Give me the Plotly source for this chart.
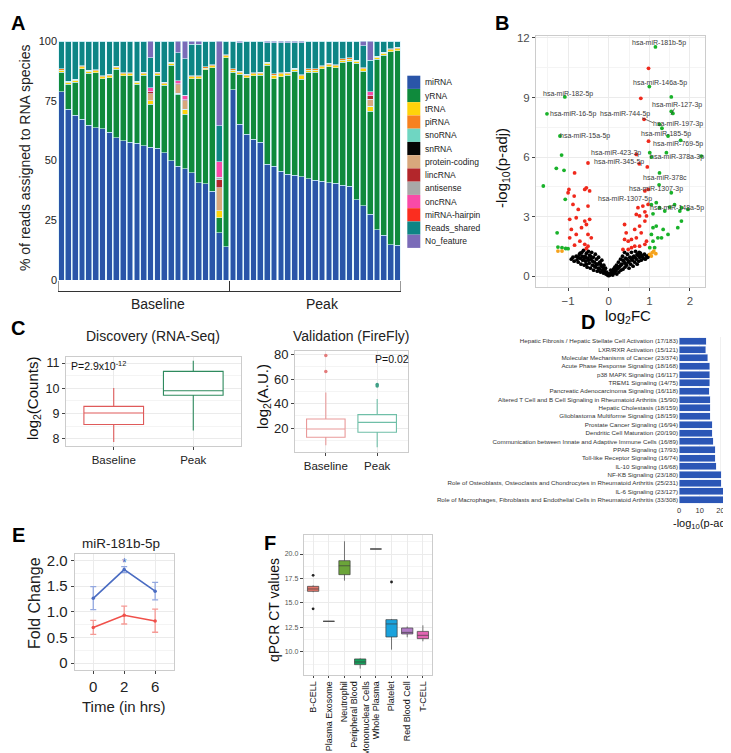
import plotly.graph_objects as go

W, H = 731, 753
FONT = "Liberation Sans, Arial, Helvetica, sans-serif"


def fx(p):
    return p / W


def fy(p):
    return 1 - p / H


# ===================== Panel A: RNA species per sample =====================
rna_types = ["miRNA", "yRNA", "tRNA", "piRNA", "snoRNA", "snRNA", "protein-coding",
             "lincRNA", "antisense", "oncRNA", "miRNA-hairpin", "Reads_shared", "No_feature"]
rna_colors = ["#2a55a8", "#0f8a3c", "#ffd30a", "#f7811f", "#6fd6c2", "#050505", "#d8a77c",
              "#b3262b", "#a8a8a8", "#f94aa8", "#fb2d1f", "#0d8585", "#7a6bb8"]
samples = list(range(1, 51))          # 25 Baseline + 25 Peak
group_names = ["Baseline", "Peak"]

a_mirna = [78.7, 71.4, 68.9, 67.2, 64.7, 63.7, 63.3, 61.9, 59.6, 58.2, 57.7, 57.2, 56.1,
           55.6, 55.1, 53.3, 49.8, 47.7, 46.6, 44.9, 40.7, 40.3, 37.2, 19.8, 13.9,
           79.5, 65.1, 60.9, 58.9, 57.7, 48.4, 47.7, 45.6, 44.2, 43.8, 43.2, 42.4, 41.8,
           41.4, 40.7, 40.4, 39.7, 39.3, 33.5, 31.0, 27.5, 21.0, 18.7, 14.8, 14.5]
a_yrna = [8.3, 10.5, 13.9, 21.2, 21.8, 23.0, 20.9, 22.8, 28.5, 27.2, 27.7, 24.7, 29.5,
          17.9, 30.5, 28.1, 40.0, 30.0, 22.7, 39.3, 43.5, 47.6, 51.6, 6.3, 79.1,
          7.5, 20.9, 23.8, 26.5, 27.9, 41.4, 36.5, 39.4, 41.4, 43.6, 40.7, 44.6, 45.2,
          47.0, 48.6, 48.4, 51.5, 52.3, 57.2, 56.4, 43.2, 71.3, 75.3, 80.7, 81.5]
a_trna = [0.8, 0.8, 0.8, 0.8, 0.8, 0.8, 0.8, 0.8, 0.8, 0.8, 0.8, 0.8, 0.8,
          1.4, 0.8, 0.8, 0.8, 0.5, 2.1, 0.8, 0.8, 0.8, 0.8, 2.8, 0.8,
          0.8, 0.8, 0.8, 0.8, 0.8, 0.8, 1.5, 1.2, 0.8, 0.8, 1.5, 0.8, 0.8,
          0.8, 0.8, 0.8, 0.8, 0.8, 0.8, 1.0, 2.1, 0.8, 0.8, 0.8, 0.8]
a_pirna = [0.5, 0.5, 0.5, 0.5, 0.5, 0.5, 0.5, 0.5, 0.5, 0.5, 0.5, 0.5, 0.5,
           0.0, 0.5, 0.5, 0.5, 0.0, 0.0, 0.5, 0.5, 0.5, 0.5, 0.0, 0.5,
           0.5, 0.5, 0.5, 0.5, 0.5, 0.5, 0.5, 0.5, 0.5, 0.5, 0.5, 0.5, 0.5,
           0.5, 0.5, 0.5, 0.5, 0.5, 0.5, 0.5, 0.0, 0.5, 0.5, 0.5, 0.5]
a_snorna = [0.0] * 50
a_snrna = [0.0] * 50
a_protein = [0, 0, 0, 0, 0, 0, 0, 0, 0, 0, 0, 0, 0,
             3.0, 0, 0, 0, 3.5, 3.5, 0, 0, 0, 0, 9.8, 0,
             0, 0, 0, 0, 0, 0, 0, 0, 0, 0, 0, 0, 0,
             0, 0, 0, 0, 0, 0, 0, 2.8, 0, 0, 0, 0]
a_linc = [0, 0, 0, 0, 0, 0, 0, 0, 0, 0, 0, 0, 0,
          0.8, 0, 0, 0, 0.5, 0.6, 0, 0, 0, 0, 3.2, 0,
          0, 0, 0, 0, 0, 0, 0, 0, 0, 0, 0, 0, 0,
          0, 0, 0, 0, 0, 0, 0, 1.4, 0, 0, 0, 0]
a_antisense = [0, 0, 0, 0, 0, 0, 0, 0, 0, 0, 0, 0, 0,
               0, 0, 0, 0, 0, 0, 0, 0, 0, 0, 1.0, 0,
               0, 0, 0, 0, 0, 0, 0, 0, 0, 0, 0, 0, 0,
               0, 0, 0, 0, 0, 0, 0, 0, 0, 0, 0, 0]
a_onc = [0, 0, 0, 0, 0, 0, 0, 0, 0, 0, 0, 0, 0,
         1.7, 0, 0, 0, 1.1, 1.8, 0, 0, 0, 0, 6.5, 0,
         0, 0, 0, 0, 0, 0, 0, 0, 0, 0, 0, 0, 0,
         0, 0, 0, 0, 0, 0, 0, 1.7, 0, 0, 0, 0]
a_hairpin = [0.0] * 50
a_shared = [11.7, 16.8, 15.9, 10.3, 12.2, 12.0, 14.5, 14.0, 10.6, 13.3, 13.3, 16.8, 13.1,
            12.6, 13.1, 17.3, 8.9, 11.8, 15.3, 13.1, 13.1, 10.8, 9.9, 15.1, 5.7,
            11.7, 11.9, 14.0, 13.3, 13.1, 8.1, 13.0, 12.5, 12.3, 10.5, 13.3, 11.7, 11.7,
            10.3, 9.4, 9.9, 7.5, 7.1, 8.0, 9.1, 13.3, 6.4, 4.7, 3.2, 2.7]
a_nofeat = [0, 0, 0, 0, 0, 0, 0, 0, 0, 0, 0, 0, 0,
            7.0, 0, 0, 0, 4.9, 7.4, 1.4, 1.4, 0, 0, 35.5, 0,
            0, 0.8, 0, 0, 0, 0.8, 0.8, 0.8, 0.8, 0.8, 0.8, 0, 0,
            0, 0, 0, 0, 0, 0, 2.0, 8.0, 0, 0, 0, 0]
a_series = [a_mirna, a_yrna, a_trna, a_pirna, a_snorna, a_snrna, a_protein,
            a_linc, a_antisense, a_onc, a_hairpin, a_shared, a_nofeat]

# ===================== Panel B: volcano =====================
b_black_x = [-0.92, -0.88, -0.85, -0.80, -0.78, -0.75, -0.72, -0.70, -0.68, -0.66, -0.64, -0.62,
             -0.60, -0.58, -0.57, -0.55, -0.53, -0.52, -0.50, -0.48, -0.47, -0.45, -0.44, -0.42,
             -0.40, -0.38, -0.37, -0.35, -0.33, -0.32, -0.30, -0.28, -0.27, -0.25, -0.23, -0.22,
             -0.20, -0.18, -0.17, -0.15, -0.13, -0.12, -0.10, -0.08, -0.07, -0.05, -0.03, -0.02,
             0.00, 0.01, 0.03, 0.05, 0.07, 0.09, 0.10, 0.12, 0.14, 0.15, 0.17, 0.19, 0.20, 0.22,
             0.24, 0.25, 0.27, 0.29, 0.30, 0.32, 0.34, 0.35, 0.37, 0.39, 0.40, 0.42, 0.44, 0.46,
             0.48, 0.50, 0.52, 0.54, 0.56, 0.58, 0.60, 0.62, 0.64, 0.66, 0.68, 0.70, 0.72, 0.74,
             0.76, 0.78, 0.80, 0.82, 0.85, 0.88, 0.90, 0.93, 0.96, 0.99,
             -0.60, -0.55, -0.50, -0.45, -0.40, -0.35, -0.30, -0.25, -0.20, -0.15, -0.10, 0.05,
             0.10, 0.15, 0.20, 0.25, 0.30, 0.35, 0.40, 0.45, 0.50, 0.55, 0.60, 0.65, 0.70, 0.75,
             0.80, -0.65, -0.70, -0.75]
b_black_y = [0.85, 0.95, 0.75, 1.00, 0.82, 0.70, 1.10, 0.90, 0.60, 1.20, 0.80, 1.30,
             0.55, 1.00, 0.75, 1.15, 0.45, 0.90, 1.25, 0.65, 1.05, 0.40, 0.85, 1.20,
             0.55, 0.95, 0.30, 0.70, 1.10, 0.45, 0.85, 0.25, 0.60, 0.95, 0.35, 0.70,
             0.20, 0.50, 0.80, 0.30, 0.15, 0.55, 0.25, 0.40, 0.10, 0.20, 0.05, 0.12,
             0.02, 0.08, 0.05, 0.15, 0.10, 0.25, 0.05, 0.35, 0.15, 0.45, 0.25, 0.55, 0.10, 0.40,
             0.70, 0.20, 0.50, 0.85, 0.30, 0.60, 1.00, 0.35, 0.75, 1.20, 0.45, 0.90, 0.55, 1.10,
             0.70, 0.40, 0.95, 0.60, 1.20, 0.80, 0.50, 1.00, 0.70, 1.25, 0.85, 0.60, 1.05, 0.75,
             0.95, 1.15, 0.80, 1.00, 0.90, 1.10, 0.85, 1.00, 0.95, 1.05,
             0.90, 0.60, 0.80, 1.00, 0.75, 0.50, 0.60, 0.40, 0.60, 0.45, 0.35, 0.30,
             0.20, 0.30, 0.35, 0.45, 0.55, 0.80, 0.65, 0.85, 0.75, 0.90, 0.95, 0.95, 1.10, 1.20,
             1.05, 1.00, 1.15, 0.95]
b_red_x = [0.98, 0.79, 0.87, 0.98, 0.68, -0.51, 0.75, 0.95, -0.84, 0.97,
           -0.98, -1.00, -0.55, -0.59, -0.47, -0.85, -0.88, -0.75, -0.51, -0.80,
           -0.59, -0.55, -0.47, -0.96, -0.67, -0.92, -0.80, -0.51, -0.43, -0.71,
           -0.96, -0.59, -0.51, -0.84, -0.55, 0.39, 0.43, 0.39, 0.48, 0.56,
           0.68, 0.64, 0.76, 0.80, 0.89, 0.76, 0.93, 0.84, 0.89, 0.68,
           0.72, 0.97, 0.64, 0.76, 0.89, 0.56, 0.35, 0.48, 0.93, 0.89]
b_red_y = [10.47, 8.96, 7.9, 6.8, 6.13, 5.7, 5.66, 5.5, 5.2, 4.37,
           4.37, 4.2, 4.45, 4.37, 4.29, 4.03, 3.61, 3.36, 3.53, 2.94,
           2.77, 2.6, 2.86, 2.86, 2.44, 2.35, 2.1, 2.1, 1.93, 1.76,
           1.93, 1.6, 1.51, 1.56, 1.39, 2.6, 2.18, 1.85, 1.76, 1.85,
           1.93, 2.35, 2.52, 2.18, 2.77, 3.03, 3.03, 3.53, 3.24, 3.11,
           3.45, 3.61, 1.51, 1.51, 1.6, 1.43, 1.34, 1.34, 1.76, 4.29]
b_green_x = [1.15, 1.00, 1.54, 1.54, 1.58, 1.25, 1.31, 1.46, 1.77, 1.01,
             1.05, 1.42, 2.28, 1.25, 1.24, 1.54, 1.05, 1.17, 1.25, 1.38,
             1.50, 1.62, 1.79, 1.95, 1.75, 1.09, 1.79, 1.70, 1.46, 1.34,
             1.21, 1.09, 1.13, 1.05, 1.30, 1.17, 1.01, 1.09,
             -1.08, -1.52, -1.20, -1.16, -1.29, -1.10, -1.61, -1.07, -1.27, -1.25,
             -1.15, -1.06, -1.00]
b_green_y = [11.55, 9.55, 9.03, 8.3, 8.2, 7.65, 7.45, 7.06, 6.84, 6.22,
             6.0, 6.22, 6.05, 5.2, 4.6, 4.2, 3.6, 3.7, 3.45, 3.28,
             3.48, 3.6, 3.45, 3.36, 3.28, 3.14, 2.77, 2.44, 2.1, 2.35,
             1.93, 1.76, 1.43, 2.1, 1.93, 2.52, 1.43, 2.44,
             9.03, 8.18, 7.06, 6.1, 5.43, 5.33, 4.54, 3.87, 2.18, 1.46,
             1.43, 1.39, 1.38]
b_orange_x = [-1.25, -1.15, 1.01, 1.07, 1.11, 1.16, 1.05]
b_orange_y = [1.26, 1.26, 1.09, 1.18, 1.26, 1.13, 1.01]
b_labels = ["hsa-miR-181b-5p", "hsa-miR-146a-5p", "hsa-miR-182-5p", "hsa-miR-127-3p",
            "hsa-miR-16-5p", "hsa-miR-744-5p", "hsa-miR-197-3p", "hsa-miR-185-5p",
            "hsa-miR-15a-5p", "hsa-miR-769-5p", "hsa-miR-423-3p", "hsa-miR-378a-3p",
            "hsa-miR-345-5p", "hsa-miR-378c", "hsa-miR-1307-3p", "hsa-miR-1307-5p",
            "hsa-miR-148a-5p"]
b_label_x = [1.23, 1.27, -1.00, 1.67, -0.88, 0.40, 1.71, 1.42, -0.59, 1.70,
             0.19, 1.67, 0.25, 1.38, 1.17, 0.39, 1.68]
b_label_y = [11.76, 9.75, 9.16, 8.62, 8.15, 8.15, 7.68, 7.14, 7.06, 6.64,
             6.2, 6.0, 5.75, 4.96, 4.37, 3.9, 3.45]
b_conn_x = [0.82, 1.09, None, 1.53, 1.62]
b_conn_y = [7.98, 7.73, None, 8.12, 8.45]

# ===================== Panel C =====================
c_groups = ["Baseline", "Peak"]
c1_low = [7.87, 8.32]
c1_q1 = [8.56, 9.72]
c1_med = [9.02, 9.90]
c1_q3 = [9.28, 10.67]
c1_high = [10.01, 11.09]
c2_low = [5.9, 4.3]
c2_q1 = [12.4, 16.5]
c2_med = [19.2, 24.6]
c2_q3 = [27.3, 30.9]
c2_high = [49.0, 43.6]
c2_out_x = ["Baseline", "Baseline", "Peak", "Peak"]
c2_out_y = [79.3, 66.2, 54.4, 55.6]

# ===================== Panel D: pathways =====================
d_pathways = [
    "Hepatic Fibrosis / Hepatic Stellate Cell Activation (17/183)",
    "LXR/RXR Activation (15/121)",
    "Molecular Mechanisms of Cancer (23/374)",
    "Acute Phase Response Signaling (18/168)",
    "p38 MAPK Signaling (16/117)",
    "TREM1 Signaling (14/75)",
    "Pancreatic Adenocarcinoma Signaling (16/118)",
    "Altered T Cell and B Cell Signaling in Rheumatoid Arthritis (15/90)",
    "Hepatic Cholestasis (18/159)",
    "Glioblastoma Multiforme Signaling (18/159)",
    "Prostate Cancer Signaling (16/94)",
    "Dendritic Cell Maturation (20/190)",
    "Communication between Innate and Adaptive Immune Cells (16/89)",
    "PPAR Signaling (17/93)",
    "Toll-like Receptor Signaling (16/74)",
    "IL-10 Signaling (16/68)",
    "NF-KB Signaling (23/180)",
    "Role of Osteoblasts, Osteoclasts and Chondrocytes in Rheumatoid Arthritis (25/231)",
    "IL-6 Signaling (23/127)",
    "Role of Macrophages, Fibroblasts and Endothelial Cells in Rheumatoid Arthritis (33/308)",
]
d_values = [13.2, 13.0, 14.0, 14.8, 14.8, 14.8, 14.5, 15.2, 15.2, 15.2,
            16.0, 16.0, 16.5, 17.6, 17.6, 18.1, 20.5, 20.5, 23.7, 27.4]

# ===================== Panel E =====================
e_time = ["0", "2", "6"]
e_blue = [1.26, 1.82, 1.40]
e_blue_up = [0.23, 0.06, 0.17]
e_blue_dn = [0.22, 0.06, 0.17]
e_red = [0.69, 0.93, 0.82]
e_red_up = [0.14, 0.18, 0.23]
e_red_dn = [0.13, 0.17, 0.22]
e_star_time = "2"

# ===================== Panel F =====================
f_cells = ["B-CELL", "Plasma Exosome", "Neutrophil", "Peripheral Blood<br>Mononuclear Cells",
           "Whole Plasma", "Platelet", "Red Blood Cell", "T-CELL"]
f_colors = ["#e5766b", "#c49a3a", "#6ba539", "#15a05c", "#19b6b8", "#1aa2dc", "#b27cc6", "#e264b2"]
f_low = [16.10, 13.13, 17.28, 8.30, 20.51, 10.24, 11.50, 11.09]
f_q1 = [16.19, 13.13, 17.89, 8.71, 20.51, 11.53, 11.84, 11.36]
f_med = [16.43, 13.13, 18.80, 8.98, 20.51, 12.86, 12.00, 11.70]
f_q3 = [16.70, 13.13, 19.32, 9.29, 20.51, 13.30, 12.45, 12.10]
f_high = [16.80, 13.13, 21.30, 9.35, 20.51, 13.37, 12.60, 12.72]
f_out_x = ["B-CELL", "B-CELL", "Platelet"]
f_out_y = [17.82, 14.40, 17.14]

# ============================================================
fig = go.Figure()

# --- A bars
for name, col, vals in zip(rna_types, rna_colors, a_series):
    fig.add_trace(go.Bar(x=samples, y=vals, name=name, marker=dict(color=col, line=dict(color="#d6f2fa", width=0.6)),
                         xaxis="x", yaxis="y", showlegend=False))

# --- B scatter
for xs, ys, col in [(b_black_x, b_black_y, "#000000"), (b_red_x, b_red_y, "#f0291c"),
                    (b_green_x, b_green_y, "#19b22a"), (b_orange_x, b_orange_y, "#f5a21b")]:
    fig.add_trace(go.Scatter(x=xs, y=ys, mode="markers", marker=dict(color=col, size=3.8),
                             xaxis="x2", yaxis="y2", showlegend=False))
fig.add_trace(go.Scatter(x=b_conn_x, y=b_conn_y, mode="lines", line=dict(color="#333", width=0.7),
                         xaxis="x2", yaxis="y2", showlegend=False))

# --- C1 boxes
for i, (g, col) in enumerate(zip(c_groups, ["#df5a5a", "#2e8a5e"])):
    fig.add_trace(go.Box(x=[g], q1=[c1_q1[i]], median=[c1_med[i]], q3=[c1_q3[i]],
                         lowerfence=[c1_low[i]], upperfence=[c1_high[i]], width=0.75,
                         whiskerwidth=0, line=dict(color=col, width=1.1), fillcolor="white",
                         boxpoints=False, xaxis="x3", yaxis="y3", showlegend=False))
# --- C2 boxes
for i, (g, col) in enumerate(zip(c_groups, ["#e99a9a", "#6fbfa8"])):
    fig.add_trace(go.Box(x=[g], q1=[c2_q1[i]], median=[c2_med[i]], q3=[c2_q3[i]],
                         lowerfence=[c2_low[i]], upperfence=[c2_high[i]], width=0.75,
                         whiskerwidth=0, line=dict(color=col, width=1.1), fillcolor="white",
                         boxpoints=False, xaxis="x4", yaxis="y4", showlegend=False))
fig.add_trace(go.Scatter(x=c2_out_x, y=c2_out_y, mode="markers",
                         marker=dict(color=["#e37b7b", "#e37b7b", "#3f9f86", "#3f9f86"], size=3.5),
                         xaxis="x4", yaxis="y4", showlegend=False))

# --- D bars
fig.add_trace(go.Bar(x=d_values, y=d_pathways, orientation="h",
                     marker=dict(color="#2b56b6", line=dict(color="#dfe8f7", width=0.5)),
                     xaxis="x5", yaxis="y5", showlegend=False))

# --- E lines
fig.add_trace(go.Scatter(x=e_time, y=e_blue, mode="lines+markers",
                         line=dict(color="#4a6cc2", width=1.6), marker=dict(size=3.5, color="#4a6cc2"),
                         error_y=dict(type="data", symmetric=False, array=e_blue_up, arrayminus=e_blue_dn,
                                      color="#93a8e0", thickness=1.3, width=3),
                         xaxis="x6", yaxis="y6", showlegend=False))
fig.add_trace(go.Scatter(x=e_time, y=e_red, mode="lines+markers",
                         line=dict(color="#f0504a", width=1.6), marker=dict(size=3.5, color="#f0504a"),
                         error_y=dict(type="data", symmetric=False, array=e_red_up, arrayminus=e_red_dn,
                                      color="#f59a95", thickness=1.3, width=3),
                         xaxis="x6", yaxis="y6", showlegend=False))

# --- F boxes
for i, (c, col) in enumerate(zip(f_cells, f_colors)):
    fig.add_trace(go.Box(x=[c], q1=[f_q1[i]], median=[f_med[i]], q3=[f_q3[i]],
                         lowerfence=[f_low[i]], upperfence=[f_high[i]], width=0.72,
                         whiskerwidth=0, line=dict(color="#3d3d3d", width=0.7), fillcolor=col,
                         boxpoints=False, xaxis="x7", yaxis="y7", showlegend=False))
fig.add_trace(go.Scatter(x=f_out_x, y=f_out_y, mode="markers", marker=dict(color="#222", size=2.8),
                         xaxis="x7", yaxis="y7", showlegend=False))

# ============================================================
GRID = "#ebebeb"
MINOR = "#f4f4f4"
BORDER = "#cccccc"


def framed(domain, anchor, **kw):
    d = dict(domain=domain, anchor=anchor, showline=True, mirror=True, linecolor=BORDER, linewidth=1,
             showgrid=True, gridcolor=GRID, gridwidth=1, zeroline=False, ticks="outside",
             ticklen=3, tickcolor="#444", automargin=False)
    d.update(kw)
    return d


layout = dict(
    width=W, height=H, margin=dict(l=0, r=0, t=0, b=0),
    paper_bgcolor="white", plot_bgcolor="white",
    font=dict(family=FONT, color="#222"),
    barmode="stack", bargap=0.16,
    # A
    xaxis=dict(domain=[fx(50), fx(393)], anchor="y", range=[0.5, 50.5], showticklabels=False,
               showgrid=False, zeroline=False, showline=False, ticks="", automargin=False),
    yaxis=dict(domain=[fy(272), fy(33)], anchor="x", range=[0, 100], tickvals=[0, 25, 50, 75, 100],
               showgrid=False, zeroline=False, showline=False, ticks="",
               tickfont=dict(size=11, color="#222"), automargin=False),
    # B
    xaxis2=framed([fx(528), fx(697)], "y2", range=[-1.79, 2.37], tickvals=[-1, 0, 1, 2],
                  minor=dict(tickvals=[-1.5, -0.5, 0.5, 1.5], showgrid=True, gridcolor=MINOR, ticks=""),
                  tickfont=dict(size=11.5, color="#4d4d4d")),
    yaxis2=framed([fy(279), fy(28)], "x2", range=[-0.55, 12.1], tickvals=[0, 3, 6, 9, 12],
                  minor=dict(tickvals=[1.5, 4.5, 7.5, 10.5], showgrid=True, gridcolor=MINOR, ticks=""),
                  tickfont=dict(size=11.5, color="#4d4d4d")),
    # C1
    xaxis3=framed([fx(58), fx(233)], "y3", type="category", categoryorder="array",
                  categoryarray=c_groups, range=[-0.6, 1.6], tickfont=dict(size=11.5, color="#222")),
    yaxis3=framed([fy(438), fy(349)], "x3", range=[7.71, 11.24], tickvals=[8, 9, 10, 11],
                  minor=dict(tickvals=[8.5, 9.5, 10.5], showgrid=True, gridcolor=MINOR, ticks=""),
                  tickfont=dict(size=12.5, color="#222")),
    # C2
    xaxis4=framed([fx(287), fx(400)], "y4", type="category", categoryorder="array",
                  categoryarray=c_groups, range=[-0.6, 1.6], tickfont=dict(size=11.5, color="#222")),
    yaxis4=framed([fy(444), fy(343)], "x4", range=[0.4, 82.9], tickvals=[20, 40, 60, 80],
                  minor=dict(tickvals=[10, 30, 50, 70], showgrid=True, gridcolor=MINOR, ticks=""),
                  tickfont=dict(size=13, color="#222")),
    # D
    xaxis5=dict(domain=[fx(671), fx(730)], anchor="y5", range=[0, 28.5], tickvals=[0, 10, 20],
                showgrid=True, gridcolor="#f0f0f0", zeroline=False, showline=False, ticks="",
                tickfont=dict(size=7.5, color="#333"), automargin=False),
    yaxis5=dict(domain=[fy(496), fy(329)], anchor="x5", type="category", categoryorder="array",
                categoryarray=d_pathways, range=[19.5, -0.5], showgrid=False, zeroline=False,
                showline=False, ticks="", tickfont=dict(size=6.2, color="#333"), automargin=False),
    # E
    xaxis6=framed([fx(66.7), fx(165.7)], "y6", type="category", categoryorder="array",
                  categoryarray=e_time, range=[-0.6, 2.6], tickfont=dict(size=15, color="#222")),
    yaxis6=framed([fy(661.7), fy(545.7)], "x6", range=[-0.13, 2.13], tickvals=[0, 0.5, 1, 1.5, 2],
                  ticktext=["0", "0.5", "1.0", "1.5", "2.0"],
                  minor=dict(tickvals=[0.25, 0.75, 1.25, 1.75], showgrid=True, gridcolor=MINOR, ticks=""),
                  tickfont=dict(size=15, color="#222")),
    # F
    xaxis7=framed([fx(295.7), fx(424.3)], "y7", type="category", categoryorder="array",
                  categoryarray=f_cells, range=[-0.6, 7.6], tickangle=-90, ticklen=2,
                  tickfont=dict(size=9, color="#111")),
    yaxis7=framed([fy(666.7), fy(527)], "x7", range=[7.68, 21.94],
                  tickvals=[10, 12.5, 15, 17.5, 20], ticktext=["10.0", "12.5", "15.0", "17.5", "20.0"],
                  minor=dict(tickvals=[8.75, 11.25, 13.75, 16.25, 18.75, 21.25], showgrid=True,
                             gridcolor=MINOR, ticks=""),
                  tickfont=dict(size=7, color="#555")),
)

shapes = []
annotations = []


def ann(text, x, y, size, color="#222", angle=0, xanchor="center", yanchor="middle", bold=False):
    if bold:
        text = "<b>" + text + "</b>"
    annotations.append(dict(text=text, x=fx(x), y=fy(y), xref="paper", yref="paper", showarrow=False,
                            xanchor=xanchor, yanchor=yanchor, textangle=angle,
                            font=dict(size=size, color=color, family=FONT)))


# legend of panel A (manual, compact)
for i, (name, col) in enumerate(zip(rna_types, rna_colors)):
    cy = 74.3 + i * 13.25
    shapes.append(dict(type="rect", xref="paper", yref="paper", x0=fx(399.3), x1=fx(412.3),
                       y0=fy(cy + 6.6), y1=fy(cy - 6.6), fillcolor=col, line=dict(width=0)))
    ann(name, 414.5, cy, 8.5, "#222", xanchor="left")

# bracket under panel A
shapes.append(dict(type="line", xref="x", yref="paper", x0=0.5, x1=50.5, y0=fy(283.5), y1=fy(283.5),
                   line=dict(color="#333", width=1)))
for xv in [0.5, 25.5, 50.5]:
    shapes.append(dict(type="line", xref="x", yref="paper", x0=xv, x1=xv, y0=fy(273), y1=fy(284),
                       line=dict(color="#333", width=1)))
annotations.append(dict(text=group_names[0], x=15.1, y=fy(296), xref="x", yref="paper", showarrow=False,
                        font=dict(size=14, color="#222")))
annotations.append(dict(text=group_names[1], x=39.1, y=fy(296), xref="x", yref="paper", showarrow=False,
                        font=dict(size=14, color="#222")))

# panel letters
ann("A", 10, 15, 20, "#000", bold=True)
ann("B", 494, 15, 20, "#000", bold=True)
ann("C", 10, 320, 20, "#000", bold=True)
ann("D", 580, 314, 20, "#000", bold=True)
ann("E", 10, 527, 20, "#000", bold=True)
ann("F", 262, 535, 20, "#000", bold=True)

# axis titles / panel titles
ann("% of reads assigned to RNA species", 17, 150, 14, "#222", angle=-90)
ann("-log<sub>10</sub>(p-adj)", 494, 160, 15, "#111", angle=-90)
ann("log<sub>2</sub>FC", 620, 308, 15, "#111")
ann("Discovery (RNA-Seq)", 145, 328, 14, "#222")
ann("Validation (FireFly)", 343, 328, 14, "#222")
ann("log<sub>2</sub>(Counts)", 25, 391, 15, "#111", angle=-90)
ann("log<sub>2</sub>(A.U.)", 255, 389, 15, "#111", angle=-90)
ann("P=2.9x10<sup>-12</sup>", 61, 357, 10.5, "#111", xanchor="left")
ann("P=0.02", 365, 351, 10.5, "#111", xanchor="left")
ann("-log<sub>10</sub>(p-adj)", 694, 516, 11, "#111")
ann("miR-181b-5p", 113, 535, 13.5, "#222")
ann("Fold Change", 26, 595, 16, "#222", angle=-90)
ann("Time (in hrs)", 116, 698, 15, "#222")
ann("qPCR CT values", 266, 602, 14, "#111", angle=-90)

# volcano labels
for t, xv, yv in zip(b_labels, b_label_x, b_label_y):
    annotations.append(dict(text=t, x=xv, y=yv, xref="x2", yref="y2", showarrow=False,
                            font=dict(size=7, color="#3a3a3a", family=FONT)))
# star in panel E (category index of the 2 h time point)
annotations.append(dict(text="*", x=e_time.index(e_star_time), y=1.95, xref="x6", yref="y6",
                        showarrow=False, font=dict(size=12, color="#4a6cc2", family=FONT)))

layout["shapes"] = shapes
layout["annotations"] = annotations
fig.update_layout(**layout)
fig.write_html("out.html")
